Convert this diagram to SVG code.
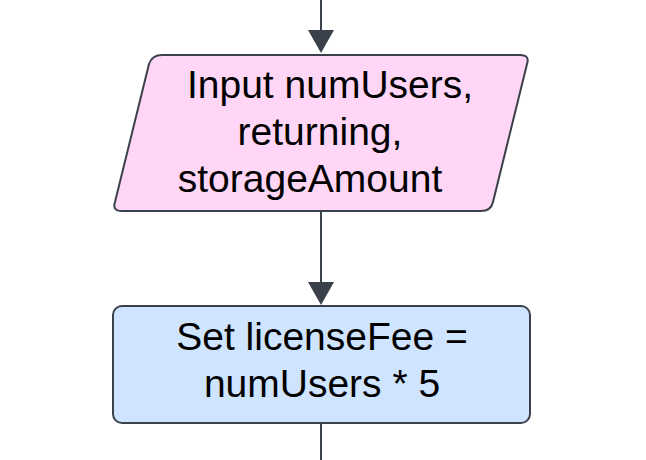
<svg xmlns="http://www.w3.org/2000/svg" width="646" height="460" viewBox="0 0 646 460">
<defs>
<style>
.conn{stroke:#3a414a;stroke-width:2;fill:none}
.head{fill:#3a414a}
.shape{stroke:#3a414a;stroke-width:2}
.t{font-family:"Liberation Sans",Arial,sans-serif;font-size:39px;fill:#000;text-anchor:middle}
</style>
</defs>
<rect width="646" height="460" fill="#ffffff"/>
<g id="connectors">
<line class="conn" x1="321" y1="0" x2="321" y2="32"/>
<polygon class="head" points="308,30 334,30 321,53"/>
<line class="conn" x1="321" y1="211" x2="321" y2="284"/>
<polygon class="head" points="308,282 334,282 321,305"/>
<line class="conn" x1="321" y1="423" x2="321" y2="460"/>
</g>
<g id="input">
<path class="shape" fill="#ffd6f5" d="M162,55 L520,55 Q530,55 527,64 L493,202 Q491,211 481,211 L122,211 Q112,211 115,202 L149,64 Q152,55 162,55 Z"/>
<text class="t" x="330" y="98">Input numUsers,</text>
<text class="t" x="320" y="145">returning,</text>
<text class="t" x="310" y="192">storageAmount</text>
</g>
<g id="setLicenseFee">
<rect class="shape" fill="#cfe4ff" x="113" y="306" width="417" height="117" rx="9"/>
<text class="t" x="322" y="350">Set licenseFee =</text>
<text class="t" x="322" y="397">numUsers * 5</text>
</g>
</svg>
